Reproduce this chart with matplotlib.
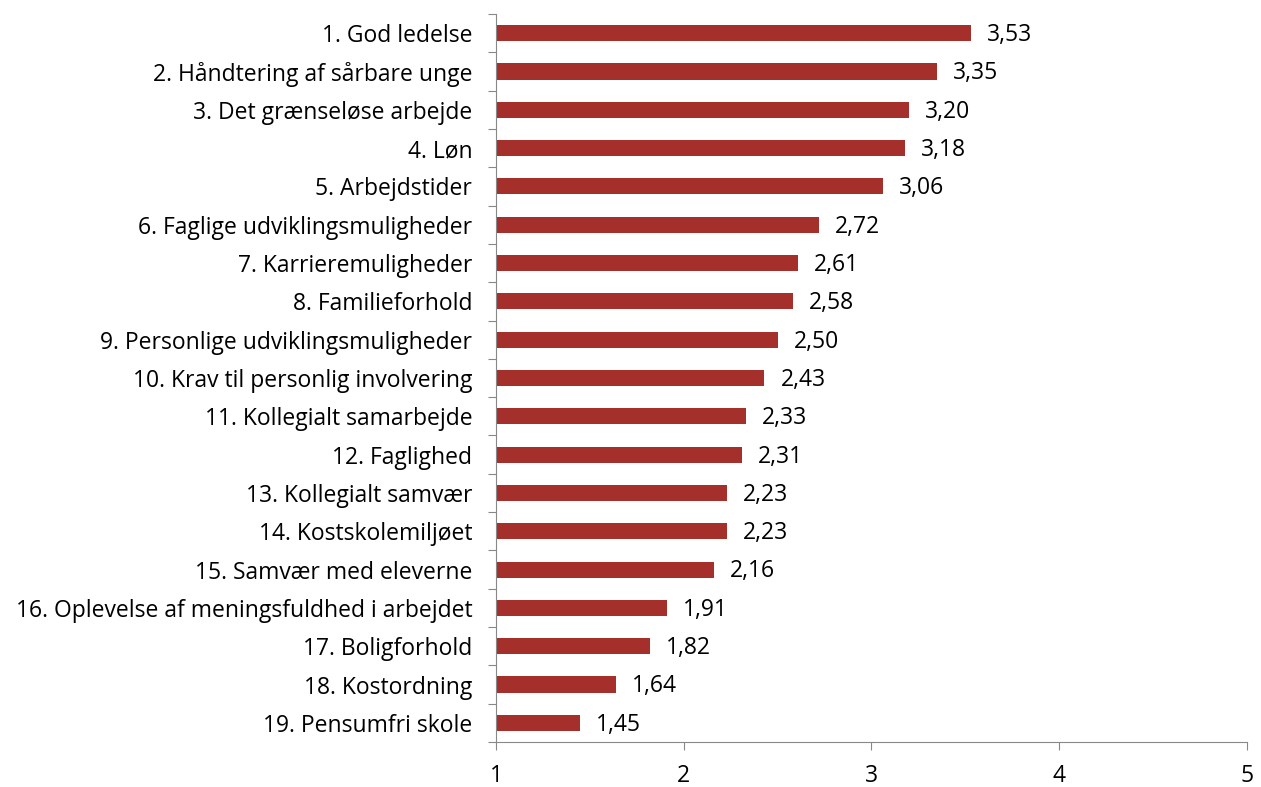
import matplotlib.pyplot as plt
import numpy as np

labels = [
    "1. God ledelse",
    "2. Håndtering af sårbare unge",
    "3. Det grænseløse arbejde",
    "4. Løn",
    "5. Arbejdstider",
    "6. Faglige udviklingsmuligheder",
    "7. Karrieremuligheder",
    "8. Familieforhold",
    "9. Personlige udviklingsmuligheder",
    "10. Krav til personlig involvering",
    "11. Kollegialt samarbejde",
    "12. Faglighed",
    "13. Kollegialt samvær",
    "14. Kostskolemiljøet",
    "15. Samvær med eleverne",
    "16. Oplevelse af meningsfuldhed i arbejdet",
    "17. Boligforhold",
    "18. Kostordning",
    "19. Pensumfri skole",
]
values = [3.53, 3.35, 3.20, 3.18, 3.06, 2.72, 2.61, 2.58, 2.50, 2.43,
          2.33, 2.31, 2.23, 2.23, 2.16, 1.91, 1.82, 1.64, 1.45]
xticks = [1, 2, 3, 4, 5]

plt.rcParams["font.family"] = ["Open Sans", "DejaVu Sans"]
fs = 16.5

fig = plt.figure(figsize=(12.61, 7.87), dpi=100)
ax = fig.add_axes([0.3933, 0.0572, 0.5956, 0.9250])

n = len(labels)
ypos = np.arange(n)
ax.barh(ypos, np.array(values) - 1, left=1, height=0.42, color="#A52F2A")
for y, v in zip(ypos, values):
    ax.text(v + 0.085, y + 0.05, f"{v:.2f}".replace(".", ","), va="center",
            ha="left", fontsize=fs)

ax.set_xlim(1, 5)
ax.set_ylim(n - 0.5, -0.5)
ax.set_xticks(xticks)
ax.set_xticklabels([str(t) for t in xticks], fontsize=fs)
ax.set_yticks(np.arange(n + 1) - 0.5)
ax.set_yticklabels([])
ax.set_yticks(ypos, minor=True)
ax.set_yticklabels(labels, minor=True, fontsize=fs)
ax.tick_params(axis="y", which="minor", length=0, pad=17)
ax.tick_params(axis="y", which="major", length=6, color="#888888")
ax.tick_params(axis="x", length=6, color="#888888", pad=10)

for s in ["top", "right"]:
    ax.spines[s].set_visible(False)
for s in ["left", "bottom"]:
    ax.spines[s].set_color("#888888")

fig.savefig("out.png", dpi=100)
